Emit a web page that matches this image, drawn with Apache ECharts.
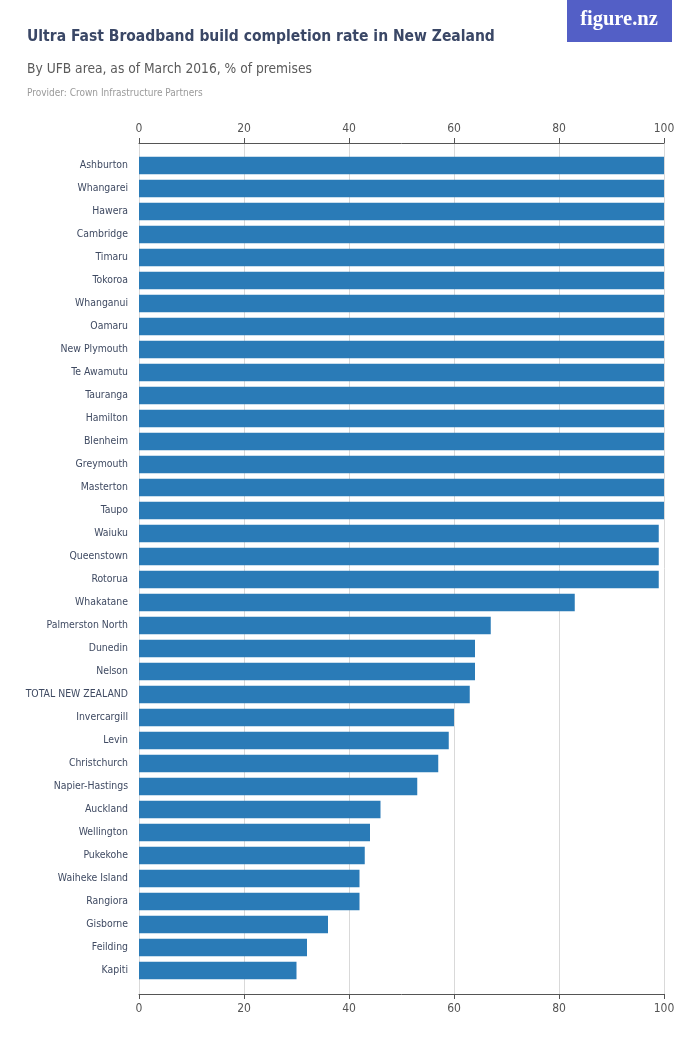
<!DOCTYPE html>
<html>
<head>
<meta charset="utf-8">
<script src="https://cdn.jsdelivr.net/npm/echarts@6/dist/echarts.min.js"></script>
<style>
html,body{margin:0;padding:0;background:#fff;}
#chart{width:700px;height:1050px;}
</style>
</head>
<body>
<div id="chart"></div>
<script>
const categories = ["Ashburton","Whangarei","Hawera","Cambridge","Timaru","Tokoroa","Whanganui","Oamaru","New Plymouth","Te Awamutu","Tauranga","Hamilton","Blenheim","Greymouth","Masterton","Taupo","Waiuku","Queenstown","Rotorua","Whakatane","Palmerston North","Dunedin","Nelson","TOTAL NEW ZEALAND","Invercargill","Levin","Christchurch","Napier-Hastings","Auckland","Wellington","Pukekohe","Waiheke Island","Rangiora","Gisborne","Feilding","Kapiti"];
const values = [100,100,100,100,100,100,100,100,100,100,100,100,100,100,100,100,99,99,99,83,67,64,64,63,60,59,57,53,46,44,43,42,42,36,32,30];
const xTicks = [0,20,40,60,80,100];

const FONT = '"Liberation Sans Narrow","DejaVu Sans Condensed","Roboto Condensed",Roboto,sans-serif';
const chart = echarts.init(document.getElementById('chart'), null, {renderer:'canvas'});
const axisBase = {
  type:'value', min: xTicks[0], max: xTicks[xTicks.length-1], interval: 20
};
chart.setOption({
  animation:false,
  backgroundColor:'#fff',
  title:[
    {text:'Ultra Fast Broadband build completion rate in New Zealand', left:27, top:29, padding:0,
     textStyle:{fontFamily:FONT, fontSize:15.5, fontWeight:'bold', color:'#3a4766'}},
    {text:'By UFB area, as of March 2016, % of premises', left:27, top:62, padding:0,
     textStyle:{fontFamily:FONT, fontSize:13.7, fontWeight:'normal', color:'#5a5a5a'}},
    {text:'Provider: Crown Infrastructure Partners', left:27, top:88, padding:0,
     textStyle:{fontFamily:FONT, fontSize:10, fontWeight:'normal', color:'#9a9a9a'}}
  ],
  graphic:[
    {type:'rect', shape:{x:567,y:0,width:105,height:42}, style:{fill:'#535fc6'}},
    {type:'text', style:{x:619, y:20, text:'figure.nz', fill:'#fff', font:'bold 20.5px "Liberation Serif","DejaVu Serif",serif', align:'center', verticalAlign:'middle'}}
  ],
  grid:[
    {left:139, right:36, top:143, bottom:56},
    {left:139, right:36, top:154, bottom:68}
  ],
  xAxis:[
    Object.assign({}, axisBase, {gridIndex:0, position:'top',
      axisLine:{show:true, lineStyle:{color:'#555'}},
      axisTick:{show:true, length:5, lineStyle:{color:'#555'}},
      axisLabel:{fontFamily:FONT, fontSize:12, color:'#555', margin:8},
      splitLine:{show:true, lineStyle:{color:'#d9d9d9'}}}),
    Object.assign({}, axisBase, {gridIndex:0, position:'bottom',
      axisLine:{show:true, onZero:false, lineStyle:{color:'#555'}},
      axisTick:{show:true, length:5, lineStyle:{color:'#555'}},
      axisLabel:{fontFamily:FONT, fontSize:12, color:'#555', margin:9},
      splitLine:{show:false}}),
    Object.assign({}, axisBase, {gridIndex:1, show:false, splitLine:{show:false}})
  ],
  yAxis:[
    {type:'category', gridIndex:0, data:categories, inverse:true, show:false},
    {type:'category', gridIndex:1, data:categories, inverse:true,
     axisLine:{show:false}, axisTick:{show:false},
     axisLabel:{fontFamily:FONT, fontSize:10.4, color:'#3f4a62', margin:11}}
  ],
  series:[
    {type:'bar', xAxisIndex:2, yAxisIndex:1, data:values, barCategoryGap:'23%',
     itemStyle:{color:'#2a7bb7'}, silent:true}
  ]
});
</script>
</body>
</html>
